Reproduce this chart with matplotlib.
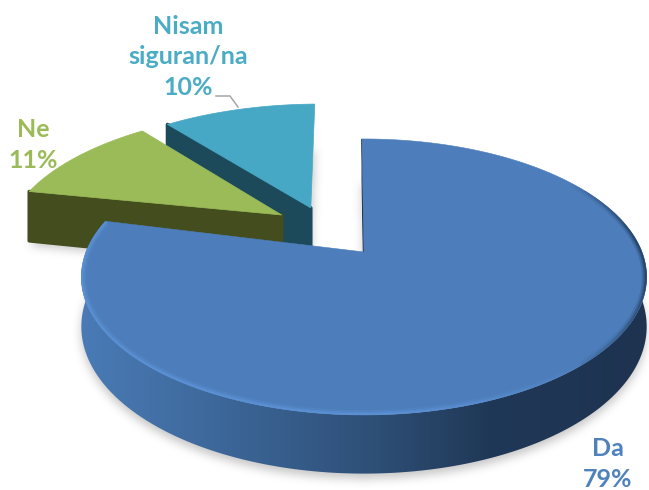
import numpy as np
import matplotlib
matplotlib.use("Agg")
import matplotlib.pyplot as plt
from matplotlib.patches import Polygon
from matplotlib.path import Path
from matplotlib.collections import LineCollection
from matplotlib.colors import LinearSegmentedColormap, to_rgb

categories = ["Da", "Ne", "Nisam\nsiguran/na"]
values = [79, 11, 10]

W, H = 649, 490

# --- projection of the pie plane to pixels ---
CX, CY = 364, 252
RX, RY = 278, 133.5
PERSP = 0.181
DEPTH = 48

# slice look
explode = [(0, 0), (-0.312, 0.292), (-0.2035, 0.351)]
rotation = [-0.5, -3, -3]
sweep_pad = [0, 0, 2]
radius = [1, 1.02, 1.035]
wall_depth = [1, 1.12, 1.12]
top_colors = ["#4d7ebb", "#9bbb59", "#46a8c4"]
wall_colors = ["#1f3654", "#444d1e", "#1c4a5a"]
text_colors = ["#4f81bd", "#9bbb59", "#4bacc6"]
draw_order = [2, 1]


def project(x, y, z=0):
    w = 1 + PERSP * y
    return CX + RX * x / w, CY - RY * y / w + z * DEPTH / w


def slice_outline(i, z=0):
    start = sum(values[:i]) * 3.6 + rotation[i]
    a = np.radians(np.linspace(start, start + values[i] * 3.6 + sweep_pad[i], 200))
    ox, oy = explode[i]
    x = np.r_[ox, ox + radius[i] * np.sin(a)]
    y = np.r_[oy, oy + radius[i] * np.cos(a)]
    sx, sy = project(x, y, z)
    return np.c_[sx, sy]


def rim(a0, a1, z=0, n=200):
    a = np.radians(np.linspace(a0, a1, n))
    sx, sy = project(np.sin(a), np.cos(a), z)
    return np.c_[sx, sy]


fig = plt.figure(figsize=(W / 100, H / 100), dpi=100)
ax = fig.add_axes([0, 0, 1, 1])
ax.set_xlim(0, W)
ax.set_ylim(H, 0)
ax.axis("off")

# --- soft shadow under the slices ---
gx, gy = np.meshgrid(np.arange(W) + 0.5, np.arange(H) + 0.5)
pts = np.c_[gx.ravel(), gy.ravel()]
mask = np.zeros(W * H, dtype=bool)
for i in range(3):
    mask |= Path(slice_outline(i, wall_depth[i]) + [0, 5]).contains_points(pts)
mask = mask.reshape(H, W).astype(float)
kernel = np.ones(9) / 9
for _ in range(3):
    mask = np.apply_along_axis(lambda r: np.convolve(r, kernel, mode="same"), 0, mask)
    mask = np.apply_along_axis(lambda r: np.convolve(r, kernel, mode="same"), 1, mask)
shadow = np.zeros((H, W, 4))
shadow[..., :3] = 0.55
shadow[..., 3] = mask * 0.5
ax.imshow(shadow, extent=(0, W, H, 0), zorder=1, aspect="auto", interpolation="bilinear")

# --- small slices: radial wall, then top ---
z = 2
for i in draw_order:
    o = slice_outline(i)
    w = slice_outline(i, wall_depth[i])
    ax.add_patch(Polygon([o[1], o[0], w[0], w[1]], closed=True, fc=wall_colors[i],
                         ec=wall_colors[i], lw=2.5, joinstyle="round", zorder=z))
    ax.add_patch(Polygon(o, closed=True, fc=top_colors[i], ec=top_colors[i], lw=0.5, zorder=z + 1))
    z += 2

# --- big slice: outer wall with gradient ---
side = np.r_[rim(60, 284), rim(284, 60, 1)]
side_patch = Polygon(side, closed=True, fc="none", ec="none", zorder=z)
ax.add_patch(side_patch)
side_cmap = LinearSegmentedColormap.from_list(
    "side", [(0, "#4a7bb6"), (0.2, "#3f6b9f"), (0.5, "#2f5179"), (0.72, "#203857"), (1, "#1d3350")]
)
im = ax.imshow(np.linspace(0, 1, 256)[None, :], extent=(80, 648, H, 0), cmap=side_cmap,
               aspect="auto", zorder=z)
im.set_clip_path(side_patch)

# inner wall sliver on the right cut
o = slice_outline(0)
w = slice_outline(0, 1)
ax.add_patch(Polygon([o[1], o[0], w[0], w[1]], closed=True, fc=wall_colors[0],
                     ec=wall_colors[0], lw=0.6, zorder=z))

# --- big slice top with bevel along the rim ---
top = Polygon(o, closed=True, fc=top_colors[0], ec=top_colors[0], lw=0.4, zorder=z + 1)
ax.add_patch(top)

light = to_rgb("#5f96dc")
dark = to_rgb("#1d3350")
arc_a = np.linspace(50, 284, 400)
arc = rim(50, 284, n=400)
segs = np.stack([arc[:-1], arc[1:]], axis=1)
mid = (arc_a[:-1] + arc_a[1:]) / 2
for lw, alpha in [(7, 0.22), (4.5, 0.35), (2.5, 0.55)]:
    colors = []
    for a in mid:
        # dark on the right side, light from the front round to the left
        dark_amt = np.clip((a - 55) / 30, 0, 1) * np.clip((140 - a) / 40, 0, 1)
        light_amt = np.clip((a - 135) / 40, 0, 1)
        if dark_amt >= light_amt:
            colors.append((*dark, alpha * dark_amt))
        else:
            colors.append((*light, alpha * light_amt))
    lc = LineCollection(segs, colors=colors, linewidths=lw, zorder=z + 2, capstyle="butt")
    ax.add_collection(lc)
    lc.set_clip_path(top)

# --- labels ---
label_pos = [(608, 464), (33, 145), (188, 57)]
for i, (lx, ly) in enumerate(label_pos):
    ax.text(lx, ly, f"{categories[i]}\n{values[i]}%", color=text_colors[i], fontsize=18,
            fontweight="bold", family="Lato", ha="center", va="center", linespacing=1.4,
            zorder=20)

# leader line for the third label
lead_x = [216, 230, 238]
lead_y = [96, 96, 107]
ax.plot(lead_x, lead_y, color="#a6a6a6", lw=1.1, zorder=20)

fig.savefig("out.png", dpi=100)
plt.close(fig)
